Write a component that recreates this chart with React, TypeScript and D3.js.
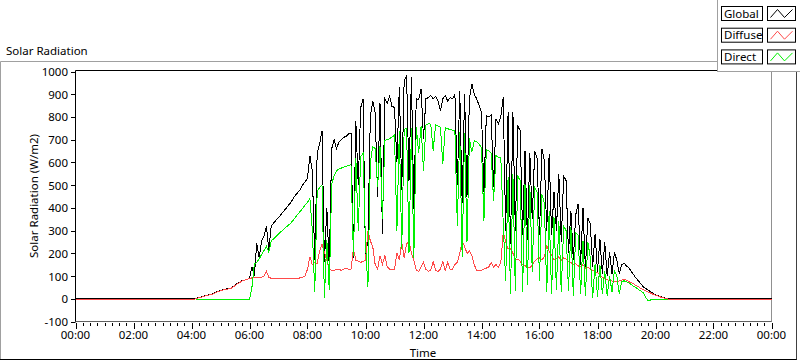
import React from 'react';
import * as d3 from 'd3';

// samples every 5 minutes from 04:00 to 21:00 (W/m2), night values outside
const startMin = 240;
const stepMin = 5;
const nightGlobal = 0;
const nightDiffuse = -4;

const globalW = [
  0, 0, 2, 5, 8, 11, 14, 17, 20, 22, 28, 33,
  36, 40, 42, 44, 45, 52, 60, 68, 74, 80, 82, 86,
  88, 140, 100, 245, 180, 255, 275, 318, 215, 320, 333, 346,
  358, 370, 384, 396, 410, 422, 440, 455, 468, 480, 500, 515,
  530, 630, 560, 170, 640, 680, 740, 160, 400, 140, 660, 700,
  660, 690, 700, 710, 715, 725, 730, 180, 780, 500, 840, 880,
  170, 270, 800, 870, 820, 450, 860, 286, 880, 860, 890, 845,
  843, 600, 930, 480, 960, 982, 520, 975, 396, 880, 875, 924,
  705, 880, 885, 895, 880, 890, 870, 828, 880, 895, 870, 885,
  880, 900, 500, 916, 420, 900, 450, 880, 946, 900, 880, 850,
  820, 468, 806, 800, 810, 490, 790, 770, 800, 887, 300, 820,
  240, 820, 300, 760, 740, 280, 652, 260, 640, 350, 650, 620,
  280, 660, 610, 300, 638, 280, 470, 300, 550, 250, 540, 520,
  200, 388, 170, 370, 418, 150, 400, 130, 357, 330, 140, 286,
  120, 264, 110, 250, 100, 204, 110, 204, 170, 110, 150, 156,
  145, 135, 120, 105, 90, 78, 65, 52, 45, 38, 30, 24,
  18, 14, 10, 6, 3, 1, 0, 0, 0, 0, 0, 0,
  0,
];

const diffuseW = [
  -4, -3, 1, 4, 7, 10, 13, 16, 19, 21, 27, 32,
  35, 39, 41, 43, 44, 50, 58, 66, 72, 78, 82, 86,
  88, 92, 95, 92, 94, 95, 100, 120, 95, 90, 90, 90,
  90, 88, 90, 91, 89, 90, 90, 91, 90, 92, 95, 100,
  130, 185, 150, 160, 155, 210, 240, 205, 170, 130, 125, 125,
  130, 130, 125, 130, 135, 130, 130, 219, 170, 165, 160, 165,
  170, 300, 255, 230, 150, 130, 190, 150, 190, 140, 130, 130,
  130, 200, 170, 250, 180, 240, 255, 200, 170, 125, 120, 140,
  160, 130, 120, 125, 165, 125, 120, 130, 165, 125, 160, 130,
  130, 150, 160, 200, 255, 230, 200, 210, 190, 150, 125, 125,
  125, 130, 135, 140, 160, 140, 150, 138, 160, 292, 250, 220,
  220, 200, 170, 175, 165, 150, 145, 140, 135, 150, 165, 175,
  180, 170, 185, 233, 210, 190, 170, 175, 185, 170, 180, 175,
  165, 160, 150, 155, 145, 140, 150, 135, 140, 130, 125, 120,
  115, 105, 95, 90, 85, 80, 78, 76, 75, 78, 82, 85,
  82, 75, 70, 65, 58, 52, 45, 40, 35, 30, 25, 20,
  16, 12, 8, 5, 2, -1, -3, -4, -4, -4, -4, -4,
  -4,
];

const directW = [
  null, null, -3, -3, -3, -3, -3, -3, -3, -3, -3, -3,
  -3, -3, -3, -3, -3, -3, -3, -3, -3, -3, -3, -3,
  -3, 50, 153, 160, 175, 195, 212, 230, 205, 255, 264, 274,
  284, 295, 304, 314, 323, 332, 345, 358, 372, 385, 398, 412,
  425, 440, 300, 30, 470, 490, 500, 5, 260, 40, 505, 540,
  564, 570, 575, 580, 583, 586, 590, 190, 620, 300, 625, 640,
  240, 50, 600, 670, 660, 490, 670, 350, 696, 700, 705, 711,
  720, 300, 740, 220, 745, 750, 200, 750, 180, 755, 640, 760,
  564, 765, 770, 768, 652, 765, 760, 755, 593, 752, 748, 745,
  742, 740, 320, 735, 182, 730, 250, 705, 645, 695, 690, 680,
  665, 344, 655, 652, 640, 432, 630, 622, 620, 329, 79, 535,
  20, 549, 35, 540, 520, 30, 505, 60, 500, 120, 490, 470,
  80, 460, 420, 30, 388, 20, 358, 40, 344, 30, 320, 300,
  35, 314, 13, 290, 280, 20, 255, 13, 250, 182, 5, 153,
  10, 150, 20, 120, 13, 100, 30, 123, 100, 20, 75, 79,
  75, 70, 62, 55, 48, 40, 35, 25, 5, -10, -5, -2,
  -2, -3, -3, -3, -3, -3, null, null, null, null, null, null,
  null,
];

const yTicks = [-100, 0, 100, 200, 300, 400, 500, 600, 700, 800, 900, 1000];
const xTickLabels = ['00:00', '02:00', '04:00', '06:00', '08:00', '10:00', '12:00', '14:00', '16:00', '18:00', '20:00', '22:00', '00:00'];
const legendNames = ['Global', 'Diffuse', 'Direct'];
const colors = ['#000000', '#ff4a4a', '#00f000'];

type Pt = { t: number; v: number | null };

function toSeries(vals: (number | null)[], night: number | null): Pt[] {
  const pts: Pt[] = vals.map((v, i) => ({ t: startMin + i * stepMin, v }));
  if (night === null) return pts;
  return [{ t: 0, v: night }, ...pts, { t: 1440, v: night }];
}

export default function App() {
  const x = d3.scaleLinear().domain([0, 1440]).range([75.5, 771.5]);
  const y = d3.scaleLinear().domain([-100, 1000]).range([321.5, 71.5]);

  const line = d3
    .line<Pt>()
    .defined((d) => d.v !== null)
    .x((d) => x(d.t))
    .y((d) => y(d.v as number));

  const series = [
    toSeries(globalW, nightGlobal),
    toSeries(diffuseW, nightDiffuse),
    toSeries(directW, null),
  ];

  const minorTicks = d3.range(0, 1441, 15);
  const font = "'Noto Sans', 'DejaVu Sans', sans-serif";

  return (
    <div style={{ position: 'absolute', left: 0, top: 0 }}>
      <svg width={800} height={361} style={{ display: 'block', background: '#fff' }} fontFamily={font}>
        {/* outer frame */}
        <line x1={0.5} y1={61.5} x2={717} y2={61.5} stroke='#a0a0a0' />
        <line x1={0.5} y1={61.5} x2={0.5} y2={359.5} stroke='#a0a0a0' />
        <line x1={0} y1={359.5} x2={797} y2={359.5} stroke='#000' />
        <line x1={796.5} y1={71} x2={796.5} y2={359.5} stroke='#404040' />
        <text x={6} y={55} fontSize={11.5} fill='#000'>Solar Radiation</text>

        {/* plot border */}
        <line x1={75.5} y1={70.5} x2={771.5} y2={70.5} stroke='#000' />
        <line x1={75.5} y1={70.5} x2={75.5} y2={322} stroke='#000' />
        <line x1={771.5} y1={70.5} x2={771.5} y2={322} stroke='#909090' />
        <line x1={75.5} y1={321.5} x2={771.5} y2={321.5} stroke='#606060' />

        {/* y axis */}
        {yTicks.map((v) => (
          <g key={v}>
            <line x1={71} x2={75.5} y1={Math.round(y(v)) + 0.5} y2={Math.round(y(v)) + 0.5} stroke='#000' />
            <text x={68} y={y(v)} fontSize={11.5} textAnchor='end' dominantBaseline='central' fill='#000'>{v}</text>
          </g>
        ))}
        <text
          transform='translate(33,196) rotate(-90)'
          fontSize={11.5}
          textAnchor='middle'
          dominantBaseline='central'
          fill='#000'
        >
          Solar Radiation (W/m2)
        </text>

        {/* x axis */}
        {minorTicks.map((m) => (
          <line
            key={m}
            x1={Math.round(x(m)) + 0.5}
            x2={Math.round(x(m)) + 0.5}
            y1={323}
            y2={m % 120 === 0 ? 329 : 326}
            stroke='#000'
          />
        ))}
        {xTickLabels.map((lab, i) => (
          <text key={i} x={x(i * 120)} y={339} fontSize={11.5} textAnchor='middle' fill='#000'>{lab}</text>
        ))}
        <text x={423} y={357} fontSize={11.5} textAnchor='middle' fill='#000'>Time</text>

        {/* data */}
        {series.map((s, i) => (
          <path key={i} d={line(s) || ''} fill='none' stroke={colors[i]} strokeWidth={1} shapeRendering='crispEdges' />
        ))}

        {/* legend */}
        <rect x={717.5} y={-1} width={84} height={72.5} fill='#fff' stroke='#a0a0a0' />
        {legendNames.map((name, i) => {
          const top = 6.5 + i * 21.7;
          const sx = 767.5;
          return (
            <g key={name}>
              <rect x={721.5} y={top} width={41} height={14} fill='#fff' stroke='#000' />
              <text x={724} y={top + 11} fontSize={11.5} fill='#000'>{name}</text>
              <rect x={sx} y={top} width={28} height={14} fill='#fff' stroke='#000' />
              <polyline
                points={`${sx + 3},${top + 11} ${sx + 10},${top + 3} ${sx + 17},${top + 11} ${sx + 25},${top + 3}`}
                fill='none'
                stroke={colors[i]}
              />
            </g>
          );
        })}
      </svg>
    </div>
  );
}
